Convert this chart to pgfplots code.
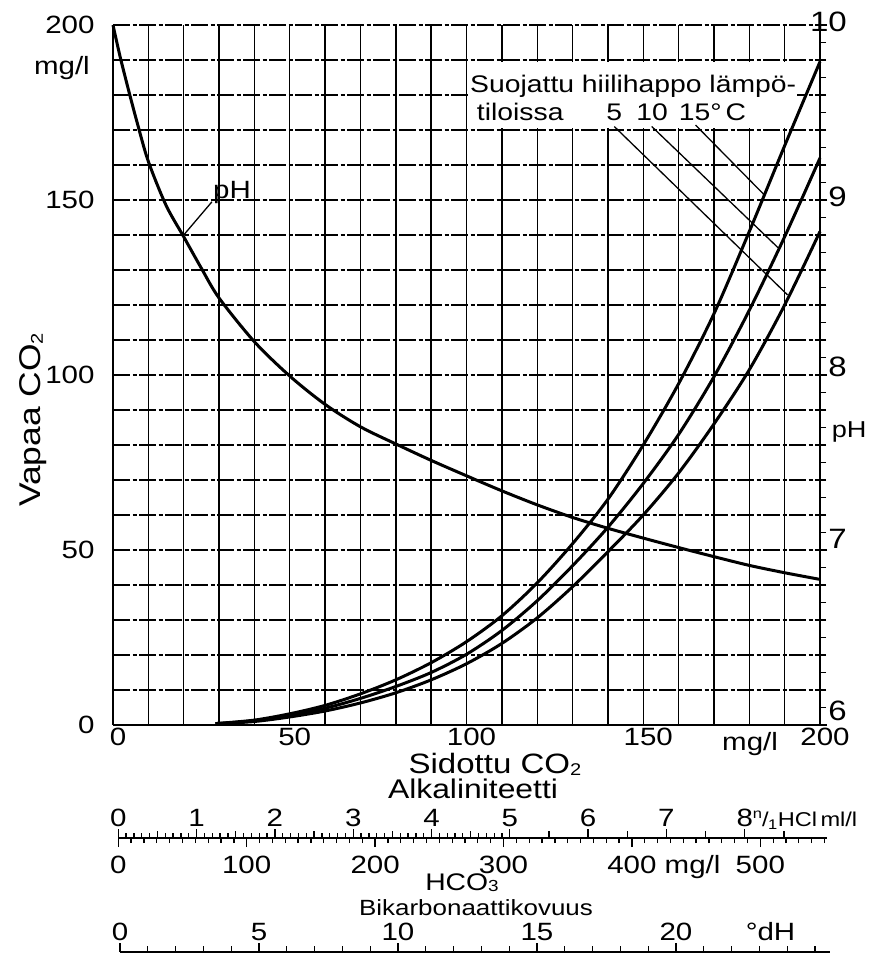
\documentclass[border=0pt]{standalone}
\usepackage{fontspec}
\setmainfont{Liberation Sans}[FakeStretch=1.18]
\usepackage{pgfplots}
\pgfplotsset{compat=1.18}
\newcommand\fs[1]{\fontsize{#1}{#1}\selectfont}
\newcommand\sub[1]{\raisebox{-2bp}{\fs{17bp}#1}}
\begin{document}
\begin{tikzpicture}
% horizontal grid (dash-dot)
\begin{axis}[at={(0,0)},anchor=south west,scale only axis,width=707bp,height=700bp,
  xmin=0,xmax=200,ymin=0,ymax=200,
  xtick=\empty, ytick={0,10,...,200}, yticklabels={}, ymajorgrids,
  major tick length=0pt, axis line style={draw=none},
  grid style={line width=1.4bp,black,dash pattern=on 17bp off 2.5bp on 4bp off 2.5bp}]
\end{axis}
% main axis
\begin{axis}[at={(0,0)},anchor=south west,scale only axis,width=707bp,height=700bp,
  xmin=0,xmax=200,ymin=0,ymax=200,
  axis x line*=bottom, axis y line*=left,
  axis line style={line width=2.2bp,black},
  xtick={0,50,100,150,200}, minor xtick={10,20,...,190},
  ytick={0,50,100,150,200},
  xmajorgrids, xminorgrids,
  major grid style={line width=1.4bp,black}, minor grid style={line width=1.4bp,black},
  major tick length=0pt, minor tick length=0pt,
  /pgf/number format/assume math mode=true,
  xticklabel style={font=\fs{25bp},xshift=5bp},
  yticklabel style={font=\fs{25bp},xshift=-15bp},
  clip=false]
\fill[white] (axis cs:100.3,170.5) rectangle (axis cs:193.5,189.5);
% pH curve
\addplot[black,line width=3bp,smooth] coordinates {
 (0,200)(2,191)(4.5,181)(7,171.5)(10,161)(15,148.5)(20,139.5)(25,130.5)(30,122)
 (40,109.5)(50,99.7)(60,91.6)(70,85.2)(80,80.3)(90,75.6)(100,71.2)(110,66.9)
 (120,62.9)(130,59.3)(140,56.2)(150,53.4)(160,50.7)(170,48.1)(180,45.6)(190,43.5)(200,41.6)};
% 15 C
\addplot[black,line width=3bp,smooth] coordinates {
 (29,0.4)(40,1.4)(50,3.2)(60,5.6)(70,8.9)(80,12.9)(90,17.8)(100,23.8)(110,31.2)
 (120,40.6)(130,51.8)(140,64.5)(150,80)(160,97.5)(170,117.5)(180,141)(190,165.5)(200,189.5)};
% 10 C
\addplot[black,line width=3bp,smooth] coordinates {
 (29,0.4)(40,1.2)(50,2.8)(60,4.8)(70,7.6)(80,11)(90,15)(100,20.2)(110,27)
 (120,35.5)(130,45.5)(140,56.5)(150,69)(160,83)(170,99.5)(180,118.5)(190,139.5)(200,162)};
% 5 C
\addplot[black,line width=3bp,smooth] coordinates {
 (29,0.3)(40,1.0)(50,2.3)(60,4.0)(70,6.3)(80,9.2)(90,12.9)(100,17.5)(110,23.3)
 (120,30.6)(130,39.5)(140,49.5)(150,60)(160,72)(170,86)(180,101.5)(190,120)(200,141)};
% leaders
\addplot[black,line width=1.3bp] coordinates {(20,140)(28,149.5)};
\addplot[black,line width=1.3bp] coordinates {(141.8,171)(190.8,122.9)};
\addplot[black,line width=1.3bp] coordinates {(152.4,171)(188.1,136.4)};
\addplot[black,line width=1.3bp] coordinates {(164.8,171.4)(184.1,151.6)};
\node[anchor=west,font=\fs{25bp},inner sep=0pt] at (axis cs:28.3,152) {pH};
\node[anchor=base west,font=\fs{24bp},inner sep=0pt] at (axis cs:101,180.7) {Suojattu hiilihappo lämpö-};
\node[anchor=base west,font=\fs{24bp},inner sep=0pt] at (axis cs:102.9,172.6) {tiloissa};
\node[anchor=base west,font=\fs{24bp},inner sep=0pt] at (axis cs:139.5,172.6) {5};
\node[anchor=base west,font=\fs{24bp},inner sep=0pt] at (axis cs:148,172.6) {10};
\node[anchor=base west,font=\fs{24bp},inner sep=0pt] at (axis cs:160,172.6) {15°\,C};
\node[anchor=base,font=\fs{25bp},inner sep=0pt,xshift=5bp,yshift=-26bp] at (axis cs:178.8,0) {mg/l};
\end{axis}
% pH axis on the right
\begin{axis}[at={(0,0)},anchor=south west,scale only axis,width=707bp,height=700bp,
  xmin=0,xmax=200,ymin=6,ymax=10,
  axis x line=none, axis y line*=right,
  axis line style={line width=1.8bp,black},
  ytick={6,7,8,9,10}, minor ytick={6.1,6.2,...,9.95}, yticklabels={},
  tick align=outside, major tick length=7bp, minor tick length=6bp,
  tick style={line width=1.3bp,black}]
\end{axis}
% alkalinity scale (above line)
\begin{axis}[at={(5.3bp,-113bp)},anchor=north west,scale only axis,width=708.4bp,height=10bp,
  xmin=0,xmax=9.047,ymin=0,ymax=1,clip=false,
  axis x line*=top, axis y line=none,
  axis line style={line width=2.4bp,black},
  tick align=outside,
  xtick={0,1,...,8}, xticklabels={},
  minor xtick={0,0.1,...,5},
  extra x ticks={0.5,1.5,2.5,3.5,4.5,5.5,6.5,7.5,8.5}, extra x tick labels={},
  extra x tick style={major tick length=7bp},
  major tick length=9bp, minor tick length=5bp,
  tick style={line width=1.3bp,black}]
\pgfplotsinvokeforeach{0,1,...,7}{\node[anchor=base,font=\fs{25bp},inner sep=0pt,yshift=11.7bp] at (axis cs:#1,1) {#1};}
\node[anchor=base,font=\fs{25bp},inner sep=0pt,yshift=11.7bp] at (axis cs:8,1) {8\rlap{\fs{20bp}\textsuperscript{n}\kern-.5bp/\kern-.5bp\textsubscript{1}HCl\,ml/l}};
\end{axis}
% HCO3 scale (below line)
\begin{axis}[at={(5.3bp,-113bp)},anchor=south west,scale only axis,width=708.4bp,height=10bp,
  xmin=0,xmax=551.7,ymin=0,ymax=1,clip=false,
  axis x line*=bottom, axis y line=none,
  axis line style={line width=2.4bp,black},
  tick align=outside,
  xtick={0,100,...,500}, xticklabels={},
  minor xtick={10,20,...,550},
  major tick length=9bp, minor tick length=5bp,
  tick style={line width=1.3bp,black}]
\pgfplotsinvokeforeach{0,100,200,300,500}{\node[anchor=base,font=\fs{25bp},inner sep=0pt,yshift=-35.5bp] at (axis cs:#1,0) {#1};}
\node[anchor=base,font=\fs{25bp},inner sep=0pt,yshift=-35.5bp] at (axis cs:400,0) {400\rlap{\ mg/l}};
\end{axis}
% dH scale
\begin{axis}[at={(7bp,-227bp)},anchor=north west,scale only axis,width=710bp,height=10bp,
  xmin=0,xmax=25.54,ymin=0,ymax=1,clip=false,
  axis x line*=top, axis y line=none,
  axis line style={line width=2.8bp,black},
  tick align=outside,
  xtick={0,5,...,20}, xticklabels={},
  minor xtick={0,1,...,25},
  major tick length=9bp, minor tick length=6bp,
  tick style={line width=1.3bp,black}]
\pgfplotsinvokeforeach{0,5,10,15,20}{\node[anchor=base,font=\fs{25bp},inner sep=0pt,yshift=12bp] at (axis cs:#1,1) {#1};}
\node[anchor=base,font=\fs{25bp},inner sep=0pt,yshift=12bp] at (axis cs:23.4,1) {°dH};
\end{axis}
% text outside the axes
\node[anchor=base east,font=\fs{25bp},inner sep=0pt] at (-23bp,650bp) {mg/l};
\node[anchor=base,rotate=90,font=\fs{30bp},inner sep=0pt] at (-72bp,305bp) {Vapaa CO\sub{2}};
\node[anchor=base,font=\fs{28bp},inner sep=0pt] at (382bp,-48bp) {Sidottu CO\sub{2}};
\node[anchor=base,font=\fs{27bp},inner sep=0pt] at (360bp,-73bp) {Alkaliniteetti};
\node[anchor=base,font=\fs{24bp},inner sep=0pt] at (349bp,-165bp) {HCO\raisebox{-1bp}{\fs{16bp}3}};
\node[anchor=base,font=\fs{22bp},inner sep=0pt] at (363bp,-190bp) {Bikarbonaattikovuus};
\node[anchor=east,font=\fs{28bp},inner sep=0pt] at (734bp,703.3bp) {10};
\node[anchor=east,font=\fs{28bp},inner sep=0pt] at (734bp,528.3bp) {9};
\node[anchor=east,font=\fs{28bp},inner sep=0pt] at (734bp,358.3bp) {8};
\node[anchor=east,font=\fs{28bp},inner sep=0pt] at (734bp,186bp) {7};
\node[anchor=east,font=\fs{28bp},inner sep=0pt] at (734bp,14bp) {6};
\node[anchor=west,font=\fs{23bp},inner sep=0pt] at (718.7bp,293.3bp) {pH};
\pgfresetboundingbox
\path[use as bounding box] (-113bp,-231bp) rectangle (756bp,725bp);
\end{tikzpicture}
\end{document}
